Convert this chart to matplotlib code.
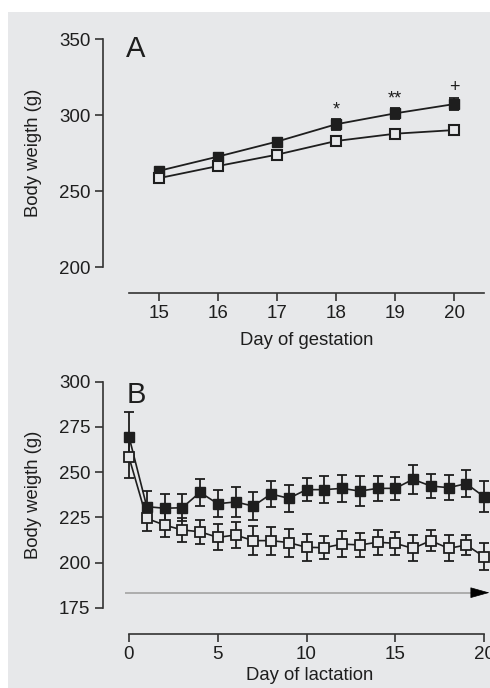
import matplotlib
matplotlib.use("Agg")
import matplotlib.pyplot as plt
from matplotlib.patches import Rectangle

plt.rcParams['font.family'] = ['Liberation Sans', 'DejaVu Sans']

# Panel A data
gest_days = [15, 16, 17, 18, 19, 20]
gest_filled = [263.2, 272.6, 282.5, 293.9, 301.1, 307.2]
gest_filled_err = [2.0, 2.0, 2.5, 3.5, 3.5, 4.0]
gest_open = [258.4, 266.4, 273.9, 282.9, 287.7, 290.1]
gest_open_err = [1.5, 1.5, 1.5, 1.5, 1.5, 1.5]
gest_marks = ['*', '**', '+']
gest_mark_days = [18, 19, 20]
gest_mark_y = [303.5, 310.5, 318.0]

# Panel B data
lact_days = list(range(0, 21))
lact_filled = [269.6, 230.9, 230.0, 230.3, 238.8, 232.5, 233.5, 231.2, 237.9, 235.5,
               240.3, 240.3, 241.0, 239.5, 241.0, 241.0, 246.0, 242.3, 241.4, 243.6, 236.4]
lact_filled_err = [13.5, 8.5, 8.0, 7.6, 7.4, 7.5, 8.3, 7.8, 7.3, 7.4,
                   6.4, 7.5, 7.4, 8.3, 7.0, 6.3, 7.9, 6.6, 7.0, 7.6, 8.5]
lact_open = [258.2, 224.4, 220.7, 218.0, 217.0, 213.9, 215.2, 212.1, 212.1, 211.0,
             208.4, 208.2, 210.2, 209.7, 211.2, 210.6, 207.8, 212.1, 207.8, 209.7, 203.2]
lact_open_err = [11.6, 7.0, 6.8, 6.8, 6.5, 7.2, 7.4, 8.0, 7.7, 7.7,
                 7.4, 6.5, 7.2, 6.8, 6.8, 6.3, 7.2, 5.9, 7.2, 5.7, 7.4]

W, H = 490, 688
fig = plt.figure(figsize=(W/100, H/100), dpi=100)
fig.patch.set_facecolor('white')
bg = '#e7e8ea'
fig.add_artist(Rectangle((8/W, 0), 1, 1 - 12/H, transform=fig.transFigure,
                         facecolor=bg, edgecolor='none', zorder=-10))

def px_axes(x0, x1, y0, y1):
    return fig.add_axes([x0/W, 1 - y1/H, (x1 - x0)/W, (y1 - y0)/H])

ink = '#1e1e1e'
spine_c = '#333333'
off = 26 * 0.72

def style(ax):
    ax.set_facecolor('none')
    for s in ['top', 'right']:
        ax.spines[s].set_visible(False)
    for s in ['left', 'bottom']:
        ax.spines[s].set_position(('outward', off))
        ax.spines[s].set_color(spine_c)
        ax.spines[s].set_linewidth(1.2)
    ax.tick_params(direction='out', length=6, width=1.2, color=spine_c,
                   labelsize=13.5, labelcolor=ink, pad=3)

# ---- Panel A ----
axA = px_axes(129, 484, 39, 267)
style(axA)
axA.set_xlim(14.5, 20.5)
axA.set_ylim(200, 350)
axA.set_xticks(gest_days)
axA.set_yticks([200, 250, 300, 350])
axA.spines['left'].set_bounds(200, 350)
axA.errorbar(gest_days, gest_filled, yerr=gest_filled_err, color=ink, marker='s',
             markersize=7.5, mfc=ink, mec=ink, lw=1.3, capsize=3.5, elinewidth=1.3, capthick=1.3)
axA.errorbar(gest_days, gest_open, yerr=gest_open_err, color=ink, marker='s',
             markersize=7, mfc=bg, mec=ink, mew=1.5, lw=1.3, capsize=3.5, elinewidth=1.3, capthick=1.3)
for m, d, y in zip(gest_marks, gest_mark_days, gest_mark_y):
    axA.text(d, y, m, ha='center', va='center', fontsize=13, color=ink)
axA.text(14.5 - 3/59.2, 343.5, 'A', fontsize=21, color=ink, ha='left', va='center')
axA.set_xlabel('Day of gestation', fontsize=13.3, color=ink, labelpad=7)
axA.set_ylabel('Body weigth (g)', fontsize=13.3, color=ink, labelpad=12)

# ---- Panel B ----
px_per_day = (484 - 129) / 20
axB = px_axes(129, 490, 381.7, 607.7)
style(axB)
axB.set_xlim(0, 20 + 6/px_per_day)
axB.set_ylim(175, 300)
axB.set_xticks([0, 5, 10, 15, 20])
axB.set_yticks([175, 200, 225, 250, 275, 300])
axB.spines['bottom'].set_bounds(0, 20)
axB.errorbar(lact_days, lact_filled, yerr=lact_filled_err, color=ink, marker='s',
             markersize=7.5, mfc=ink, mec=ink, lw=1.2, capsize=3.5, elinewidth=1.3,
             capthick=1.3, clip_on=False)
axB.errorbar(lact_days, lact_open, yerr=lact_open_err, color=ink, marker='s',
             markersize=7, mfc=bg, mec=ink, mew=1.3, lw=1.2, capsize=3.5, elinewidth=1.3,
             capthick=1.3, clip_on=False)
arrow_y = 183.3
axB.plot([-0.25, 20 - 10/px_per_day], [arrow_y, arrow_y], color='#a8a8a8', lw=1.3,
         clip_on=False, solid_capstyle='butt')
axB.annotate('', xy=(20 + 5.5/px_per_day, arrow_y), xytext=(20 - 12/px_per_day, arrow_y),
             arrowprops=dict(arrowstyle='-|>,head_length=1.25,head_width=0.35',
                             color='black', fc='black', ec='black', lw=0.5,
                             shrinkA=0, shrinkB=0),
             annotation_clip=False)
axB.text(-0.12, 292.5, 'B', fontsize=21, color=ink, ha='left', va='center')
axB.set_xlabel('Day of lactation', fontsize=13.3, color=ink, labelpad=3)
axB.set_ylabel('Body weigth (g)', fontsize=13.3, color=ink, labelpad=12)

fig.savefig('out.png', dpi=100, facecolor='white')
